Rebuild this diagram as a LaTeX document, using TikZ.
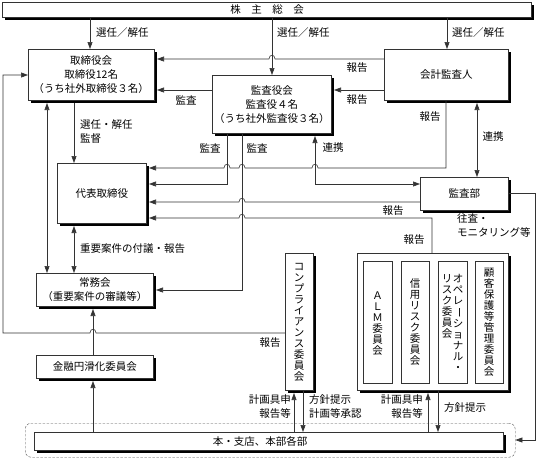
\documentclass[tikz,border=0pt]{standalone}
\usepackage{fontspec}
\newfontfamily\jp{Noto Sans CJK JP}
\usetikzlibrary{arrows.meta,shadows}
\newcommand\vbar{\rotatebox[origin=c]{-90}{ー}}
\begin{document}
\begin{tikzpicture}[x=1pt,y=-1pt,
  every node/.style={font=\jp\fontsize{10.5}{14}\selectfont, inner sep=0pt},
  bx/.style={draw=black!80, fill=white, line width=0.5pt, align=center, anchor=north west},
  sbx/.style={bx, drop shadow={shadow xshift=3pt, shadow yshift=-3pt, fill=black, opacity=1}},
  ln/.style={draw=black!80, line width=0.6pt},
  arr/.style={ln, -{Triangle[length=7pt,width=5pt]}},
  darr/.style={ln, {Triangle[length=7pt,width=5pt]}-{Triangle[length=7pt,width=5pt]}},
  lbl/.style={anchor=west, align=left},
  lblr/.style={anchor=east, align=right},
  vt/.style={align=center, font=\jp\fontsize{10.5}{11}\selectfont},
  hop/.style 2 args={insert path={-- (#1+3,#2) .. controls (#1+3,#2-5) and (#1-3,#2-5) .. (#1-3,#2)}},
]
\useasboundingbox (0,0) rectangle (539,458);

% boxes
\node[sbx, minimum width=529pt, minimum height=15pt] (kabu) at (2,2) {};
\node at (267,10) {株　主　総　会};
\node[sbx, minimum width=126pt, minimum height=51pt] (tori) at (28,49) {取締役会\\取締役12名\\（うち社外取締役３名）};
\node[sbx, minimum width=119pt, minimum height=58pt] (kansa) at (212,75) {監査役会\\監査役４名\\（うち社外監査役３名）};
\node[sbx, minimum width=124pt, minimum height=51pt] (kaikei) at (384,49) {会計監査人};
\node[sbx, minimum width=89pt, minimum height=60pt] (daihyo) at (57,163) {代表取締役};
\node[sbx, minimum width=117pt, minimum height=33pt] (jomu) at (36,273) {常務会\\（重要案件の審議等）};
\node[sbx, minimum width=117pt, minimum height=23pt] (kinyu) at (36,355) {金融円滑化委員会};
\node[sbx, minimum width=88pt, minimum height=33pt] (kansabu) at (420,177) {監査部};
\node[sbx, minimum width=28pt, minimum height=137pt] (comp) at (285,253) {};
\node[vt] at (299,322) {コ\\ン\\プ\\ラ\\イ\\ア\\ン\\ス\\委\\員\\会};
\node[sbx, minimum width=151pt, minimum height=137pt] (group) at (357,253) {};
\node[bx, minimum width=29pt, minimum height=122pt] (alm) at (363,261) {};
\node[bx, minimum width=28pt, minimum height=122pt] (shinyo) at (401,261) {};
\node[bx, minimum width=29pt, minimum height=122pt] (opera) at (438,261) {};
\node[bx, minimum width=28pt, minimum height=122pt] (kokyaku) at (475,261) {};
\node[vt] at (377.5,324) {Ａ\\Ｌ\\Ｍ\\委\\員\\会};
\node[vt] at (415,322) {信\\用\\リ\\ス\\ク\\委\\員\\会};
\node[vt, anchor=north] at (458,274) {オ\\ペ\\レ\\\vbar\\シ\\ョ\\ナ\\ル\\・};
\node[vt, anchor=north] at (447,274) {リ\\ス\\ク\\委\\員\\会};
\node[vt] at (489,322) {顧\\客\\保\\護\\等\\管\\理\\委\\員\\会};
\node[draw=black!70, dash pattern=on 2.5pt off 1.5pt, rounded corners=6pt, minimum width=490pt, minimum height=34pt, anchor=north west] (dash) at (25,423) {};
\node[sbx, minimum width=469pt, minimum height=18pt] (hon) at (34,432) {};
\node at (260,441) {本・支店、本部各部};

% connectors
\draw[arr] (kabu.south -| 90,0) -- (tori.north -| 90,0);
\node[lbl] at (96,33) {選任／解任};
\draw[arr] (kabu.south -| 272,0) -- (kansa.north -| 272,0);
\node[lbl] at (277,33) {選任／解任};
\draw[arr] (kabu.south -| 447,0) -- (kaikei.north -| 447,0);
\node[lbl] at (452,33) {選任／解任};

\draw[arr] (kaikei.west |- 0,59) [hop={272}{59}] -- (157,59);
\node at (357,68) {報告};
\draw[arr] (kaikei.west |- 0,90) -- (334,90);
\node at (357,100) {報告};
\draw[arr] (kansa.west |- 0,90) -- (157,90);
\node at (186,100) {監査};

\draw[arr] (74,103) -- (daihyo.north -| 74,0);
\node[lbl] at (80,132) {選任・解任\\監督};
\draw[darr] (47,103) -- (jomu.north -| 47,0);
\draw[darr] (74,226) -- (jomu.north -| 74,0);
\node[lbl] at (80,249) {重要案件の付議・報告};

\draw[arr] (comp.west |- 0,333) [hop={93}{333}] -- (3,333) -- (3,75) -- (tori.west |- 0,75);
\node at (270,343) {報告};
\draw[arr] (kinyu.north -| 93,0) -- (93,309);
\draw[arr] (hon.north -| 93,0) -- (93,381);

\draw[arr] (kaikei.south -| 446,0) -- (446,168) [hop={315}{168}] [hop={242}{168}] [hop={227}{168}] -- (149,168);
\node at (430,117) {報告};
\draw[arr] (kansa.south -| 227,0) -- (227,184) -- (149,184);
\node at (210,148) {監査};
\draw[arr] (kansa.south -| 242,0) -- (242,290) -- (156,290);
\node at (257,148) {監査};
\draw[darr] (kansabu.west |- 0,184) -- (315,184) -- (315,136);
\node at (333,148) {連携};
\draw[darr] (477,103) -- (kansabu.north -| 477,0);
\node at (493,137) {連携};
\draw[arr] (kansabu.west |- 0,202) [hop={242}{202}] -- (149,202);
\node at (393,211) {報告};
\draw[arr] (group.north -| 432,0) -- (432,218) [hop={242}{218}] -- (149,218);
\node at (414,240) {報告};
\draw[arr] (kansabu.east |- 0,193) -- (535,193) -- (535,440) -- (dash.east |- 0,440);
\node[lbl] at (457,226) {往査・\\モニタリング等};

\draw[arr] (hon.north -| 294,0) -- (294,393);
\draw[arr] (comp.south -| 303,0) -- (hon.north -| 303,0);
\node[lblr] at (291,407) {計画具申\\報告等};
\node[lbl] at (309,407) {方針提示\\計画等承認};
\draw[arr] (hon.north -| 428,0) -- (428,393);
\draw[arr] (group.south -| 438,0) -- (hon.north -| 438,0);
\node[lblr] at (423,407) {計画具申\\報告等};
\node[lbl] at (444,408) {方針提示};
\end{tikzpicture}
\end{document}
